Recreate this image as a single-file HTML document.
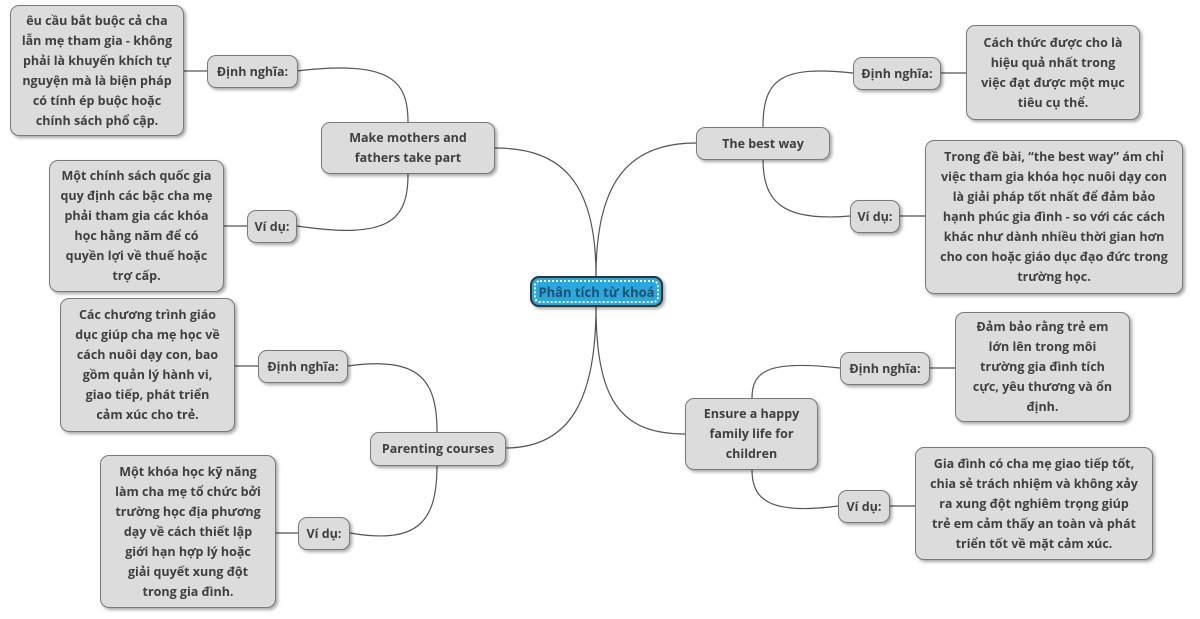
<!DOCTYPE html>
<html><head><meta charset="utf-8"><style>
body{margin:0;width:1200px;height:619px;background:#fff;position:relative;overflow:hidden;font-family:"Open Sans","DejaVu Sans","Liberation Sans",sans-serif;}
.b{position:absolute;box-sizing:border-box;background:#dcdcdc;border:1.5px solid #7a7a7a;border-radius:9px;box-shadow:2px 2px 3px rgba(0,0,0,.35);display:flex;align-items:center;justify-content:center;text-align:center;color:#3f3f3f;font-weight:bold;font-size:12.5px;line-height:20px;padding:2px 2px;white-space:nowrap;}
svg{position:absolute;left:0;top:0}
</style></head><body>
<svg width="1200" height="619" fill="none" stroke="#555" stroke-width="1.2">
<path d="M596 276 C596 180 560 148 495 148"/>
<path d="M596 276 C596 180 630 143 696 143"/>
<path d="M596 306 C596 400 570 448 505 448"/>
<path d="M596 306 C596 400 620 434 685 434"/>
<path d="M408 122 C408 80 390 60 297 71"/>
<path d="M408 174 C408 220 390 240 297 226"/>
<path d="M437 432 C437 380 420 356 348 366"/>
<path d="M437 465 C437 520 420 545 350 533"/>
<path d="M763 127 C763 80 780 65 853 73"/>
<path d="M763 159 C763 200 780 222 850 216"/>
<path d="M752 398 C752 370 770 360 840 368"/>
<path d="M752 470 C752 500 770 515 838 506"/>
<path d="M183 71 H207 M224 226 H247 M235 366 H258 M276 533 H298 M941 73 H966 M900 216 H925 M930 368 H955 M890 506 H915"/>
</svg>
<div class="b" style="left:10px;top:5px;width:174px;height:131px">êu cầu bắt buộc cả cha<br>lẫn mẹ tham gia - không<br>phải là khuyến khích tự<br>nguyện mà là biện pháp<br>có tính ép buộc hoặc<br>chính sách phổ cập.</div>
<div class="b" style="left:207px;top:55px;width:91px;height:33px">Định nghĩa:</div>
<div class="b" style="left:321px;top:122px;width:174px;height:52px">Make mothers and<br>fathers take part</div>
<div class="b" style="left:49px;top:160px;width:175px;height:132px">Một chính sách quốc gia<br>quy định các bậc cha mẹ<br>phải tham gia các khóa<br>học hằng năm để có<br>quyền lợi về thuế hoặc<br>trợ cấp.</div>
<div class="b" style="left:247px;top:210px;width:50px;height:33px">Ví dụ:</div>
<div class="b" style="left:60px;top:298px;width:175px;height:134px">Các chương trình giáo<br>dục giúp cha mẹ học về<br>cách nuôi dạy con, bao<br>gồm quản lý hành vi,<br>giao tiếp, phát triển<br>cảm xúc cho trẻ.</div>
<div class="b" style="left:258px;top:350px;width:90px;height:33px">Định nghĩa:</div>
<div class="b" style="left:370px;top:432px;width:136px;height:34px">Parenting courses</div>
<div class="b" style="left:100px;top:455px;width:176px;height:153px">Một khóa học kỹ năng<br>làm cha mẹ tổ chức bởi<br>trường học địa phương<br>dạy về cách thiết lập<br>giới hạn hợp lý hoặc<br>giải quyết xung đột<br>trong gia đình.</div>
<div class="b" style="left:298px;top:517px;width:52px;height:33px">Ví dụ:</div>
<div class="b" style="left:530px;top:276px;width:133px;height:31px;background:#29a8e0;border:2px solid #333;color:#24506a;padding:0;font-size:13px"><div style="position:absolute;inset:2px;border:2px dotted #fff;border-radius:6px"></div>Phân tích từ khoá</div>
<div class="b" style="left:696px;top:127px;width:134px;height:33px">The best way</div>
<div class="b" style="left:853px;top:57px;width:88px;height:33px">Định nghĩa:</div>
<div class="b" style="left:966px;top:25px;width:174px;height:95px">Cách thức được cho là<br>hiệu quả nhất trong<br>việc đạt được một mục<br>tiêu cụ thể.</div>
<div class="b" style="left:850px;top:200px;width:50px;height:33px">Ví dụ:</div>
<div class="b" style="left:925px;top:140px;width:258px;height:154px">Trong đề bài, “the best way” ám chỉ<br>việc tham gia khóa học nuôi dạy con<br>là giải pháp tốt nhất để đảm bảo<br>hạnh phúc gia đình - so với các cách<br>khác như dành nhiều thời gian hơn<br>cho con hoặc giáo dục đạo đức trong<br>trường học.</div>
<div class="b" style="left:685px;top:398px;width:133px;height:72px">Ensure a happy<br>family life for<br>children</div>
<div class="b" style="left:840px;top:352px;width:90px;height:33px">Định nghĩa:</div>
<div class="b" style="left:955px;top:312px;width:175px;height:110px">Đảm bảo rằng trẻ em<br>lớn lên trong môi<br>trường gia đình tích<br>cực, yêu thương và ổn<br>định.</div>
<div class="b" style="left:838px;top:490px;width:52px;height:33px">Ví dụ:</div>
<div class="b" style="left:915px;top:447px;width:238px;height:113px">Gia đình có cha mẹ giao tiếp tốt,<br>chia sẻ trách nhiệm và không xảy<br>ra xung đột nghiêm trọng giúp<br>trẻ em cảm thấy an toàn và phát<br>triển tốt về mặt cảm xúc.</div>
</body></html>
